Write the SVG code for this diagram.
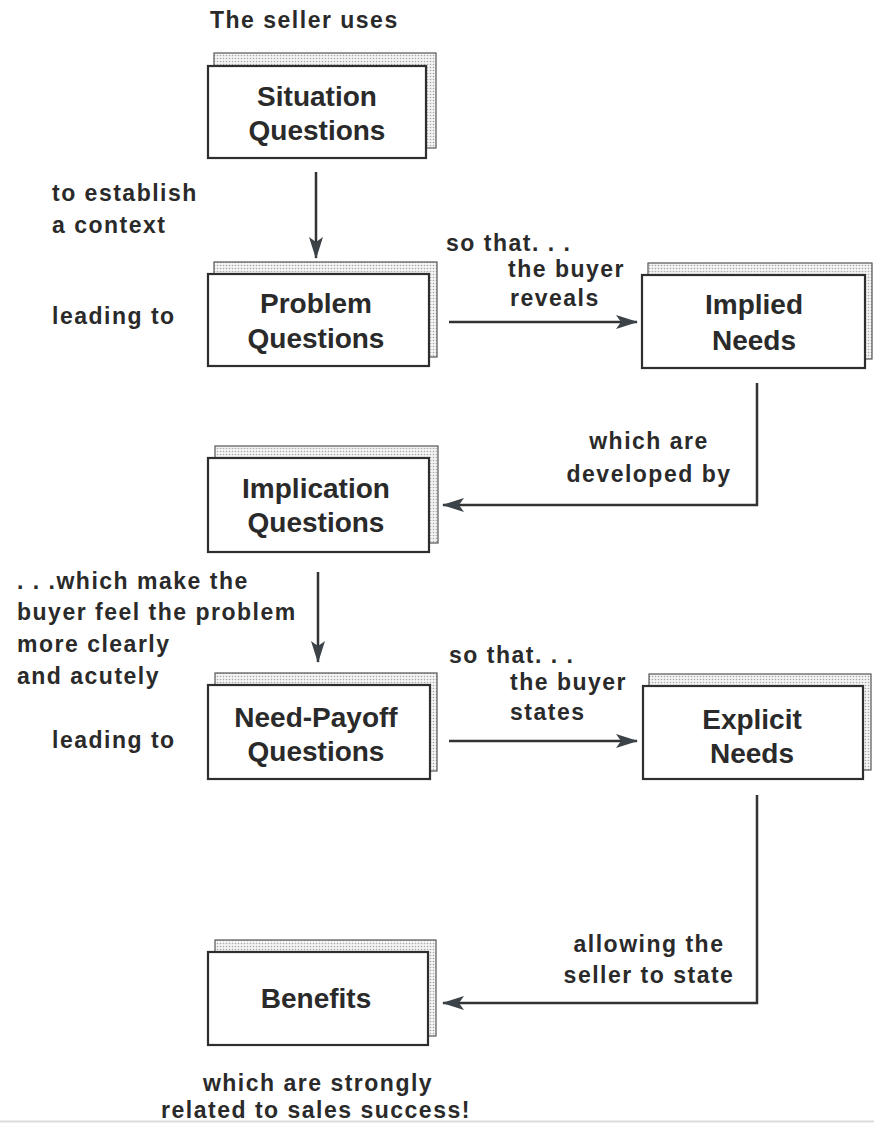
<svg xmlns="http://www.w3.org/2000/svg" width="874" height="1126" viewBox="0 0 874 1126">
<defs>
<pattern id="dots" width="3" height="3" patternUnits="userSpaceOnUse">
<rect width="3" height="3" fill="#f4f4f4"/>
<circle cx="1.5" cy="1.5" r="0.8" fill="#a8a8a8"/>
</pattern>
<marker id="ah" markerWidth="22" markerHeight="14" refX="21" refY="7" orient="auto" markerUnits="userSpaceOnUse">
<path d="M0,0 L22,7 L0,14 L5,7 Z" fill="#3b4248"/>
</marker>
<style>
.back{fill:url(#dots);stroke:#555;stroke-width:1.2}
.front{fill:#fff;stroke:#2e2e2e;stroke-width:2.2}
.bt{font-family:"Liberation Sans",Arial,sans-serif;font-weight:bold;font-size:28px;fill:#2a2a2a;text-anchor:middle}
.lt{font-family:"Liberation Sans",Arial,sans-serif;font-weight:bold;font-size:23px;fill:#2a2a2a;letter-spacing:1.5px}
.mid{text-anchor:middle}
.con{fill:none;stroke:#333;stroke-width:2.5}
</style>
</defs>
<rect width="874" height="1126" fill="#fff"/>
<line x1="0" y1="1121.5" x2="874" y2="1121.5" stroke="#dcdcdc" stroke-width="2"/>

<g id="labels">
<text class="lt" x="210" y="28">The seller uses</text>
<text class="lt" x="52" y="201">to establish</text>
<text class="lt" x="52" y="233">a context</text>
<text class="lt" x="446" y="251">so that. . .</text>
<text class="lt" x="508" y="277">the buyer</text>
<text class="lt" x="510" y="306">reveals</text>
<text class="lt" x="52" y="324">leading to</text>
<text class="lt mid" x="649" y="449">which are</text>
<text class="lt mid" x="649" y="482">developed by</text>
<text class="lt" x="17" y="589">. . .which make the</text>
<text class="lt" x="17" y="620">buyer feel the problem</text>
<text class="lt" x="17" y="652">more clearly</text>
<text class="lt" x="17" y="684">and acutely</text>
<text class="lt" x="52" y="748">leading to</text>
<text class="lt" x="449" y="663">so that. . .</text>
<text class="lt" x="510" y="690">the buyer</text>
<text class="lt" x="510" y="720">states</text>
<text class="lt mid" x="649" y="952">allowing the</text>
<text class="lt mid" x="649" y="983">seller to state</text>
<text class="lt mid" x="318" y="1091">which are strongly</text>
<text class="lt mid" x="316" y="1118">related to sales success!</text>
</g>

<g id="connectors">
<line class="con" x1="316" y1="172" x2="316" y2="258" marker-end="url(#ah)"/>
<line class="con" x1="449" y1="322" x2="637" y2="322" marker-end="url(#ah)"/>
<polyline class="con" points="757,383 757,505 443,505" marker-end="url(#ah)"/>
<line class="con" x1="318" y1="572" x2="318" y2="662" marker-end="url(#ah)"/>
<line class="con" x1="449" y1="741" x2="637" y2="741" marker-end="url(#ah)"/>
<polyline class="con" points="757,795 757,1003 443,1003" marker-end="url(#ah)"/>
</g>

<g id="situation">
<rect class="back" x="214" y="53" width="222" height="95"/>
<rect class="front" x="208" y="66" width="218" height="92"/>
<text class="bt" x="317" y="106">Situation</text>
<text class="bt" x="317" y="140">Questions</text>
</g>

<g id="problem">
<rect class="back" x="214" y="262" width="223" height="95"/>
<rect class="front" x="208" y="274" width="221" height="92"/>
<text class="bt" x="316" y="313">Problem</text>
<text class="bt" x="316" y="348">Questions</text>
</g>

<g id="implied">
<rect class="back" x="648" y="263" width="224" height="96"/>
<rect class="front" x="642" y="275" width="223" height="93"/>
<text class="bt" x="754" y="314">Implied</text>
<text class="bt" x="754" y="350">Needs</text>
</g>

<g id="implication">
<rect class="back" x="215" y="446" width="223" height="97"/>
<rect class="front" x="208" y="458" width="221" height="94"/>
<text class="bt" x="316" y="498">Implication</text>
<text class="bt" x="316" y="532">Questions</text>
</g>

<g id="needpayoff">
<rect class="back" x="215" y="673" width="222" height="98"/>
<rect class="front" x="208" y="685" width="222" height="94"/>
<text class="bt" x="316" y="727">Need-Payoff</text>
<text class="bt" x="316" y="761">Questions</text>
</g>

<g id="explicit">
<rect class="back" x="649" y="674" width="222" height="96"/>
<rect class="front" x="643" y="686" width="220" height="93"/>
<text class="bt" x="752" y="729">Explicit</text>
<text class="bt" x="752" y="763">Needs</text>
</g>

<g id="benefits">
<rect class="back" x="215" y="940" width="221" height="96"/>
<rect class="front" x="208" y="952" width="220" height="93"/>
<text class="bt" x="316" y="1008">Benefits</text>
</g>
</svg>
